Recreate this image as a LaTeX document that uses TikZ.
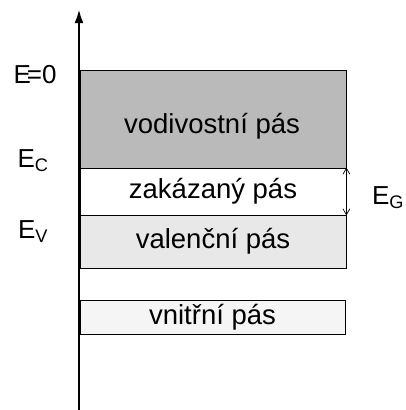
\documentclass[tikz,border=0pt]{standalone}
\usepackage{fontspec}
\setmainfont{Liberation Sans}
\usetikzlibrary{arrows.meta}
\begin{document}
\begin{tikzpicture}[x=1pt,y=-1pt,
  band/.style={draw, line width=0.8pt, minimum width=266pt, inner sep=0pt, font=\fontsize{27.5}{30}\selectfont},
  lab/.style={font=\fontsize{26}{28}\selectfont, inner sep=0pt}]
\useasboundingbox (0,0) rectangle (405,410);
\node[band, fill=black!27, minimum height=98pt] (cond) at (213,119) {};
\node[font=\fontsize{27.5}{30}\selectfont] (condt) at (212,126) {vodivostní pás};
\node[band, fill=white, minimum height=47pt] (zak) at (213,191.5) {zakázaný pás};
\node[band, fill=black!9, minimum height=53pt] (val) at (213,241.5) {valenční pás};
\node[band, fill=black!4, minimum height=34pt, minimum width=265pt] (inn) at (212.5,317) {vnitřní pás};
\coordinate (axb) at (79,410);
\coordinate (axt) at (79,9);
\draw[line width=2.6pt, -{Latex[length=14pt,width=9pt]}] (axb) -- (axt);
\draw[line width=0.7pt, {Straight Barb[length=6pt,width=7pt]}-{Straight Barb[length=6pt,width=7pt]}] (zak.north east) -- (zak.south east);
\node[lab] (e0) at (35,75) {E\kern-4pt=0};
\node[lab] (ec) at (33,161) {E\textsubscript{C}};
\node[lab] (ev) at (33,232) {E\textsubscript{V}};
\node[lab] (eg) at (388,198) {E\textsubscript{G}};
\end{tikzpicture}
\end{document}
